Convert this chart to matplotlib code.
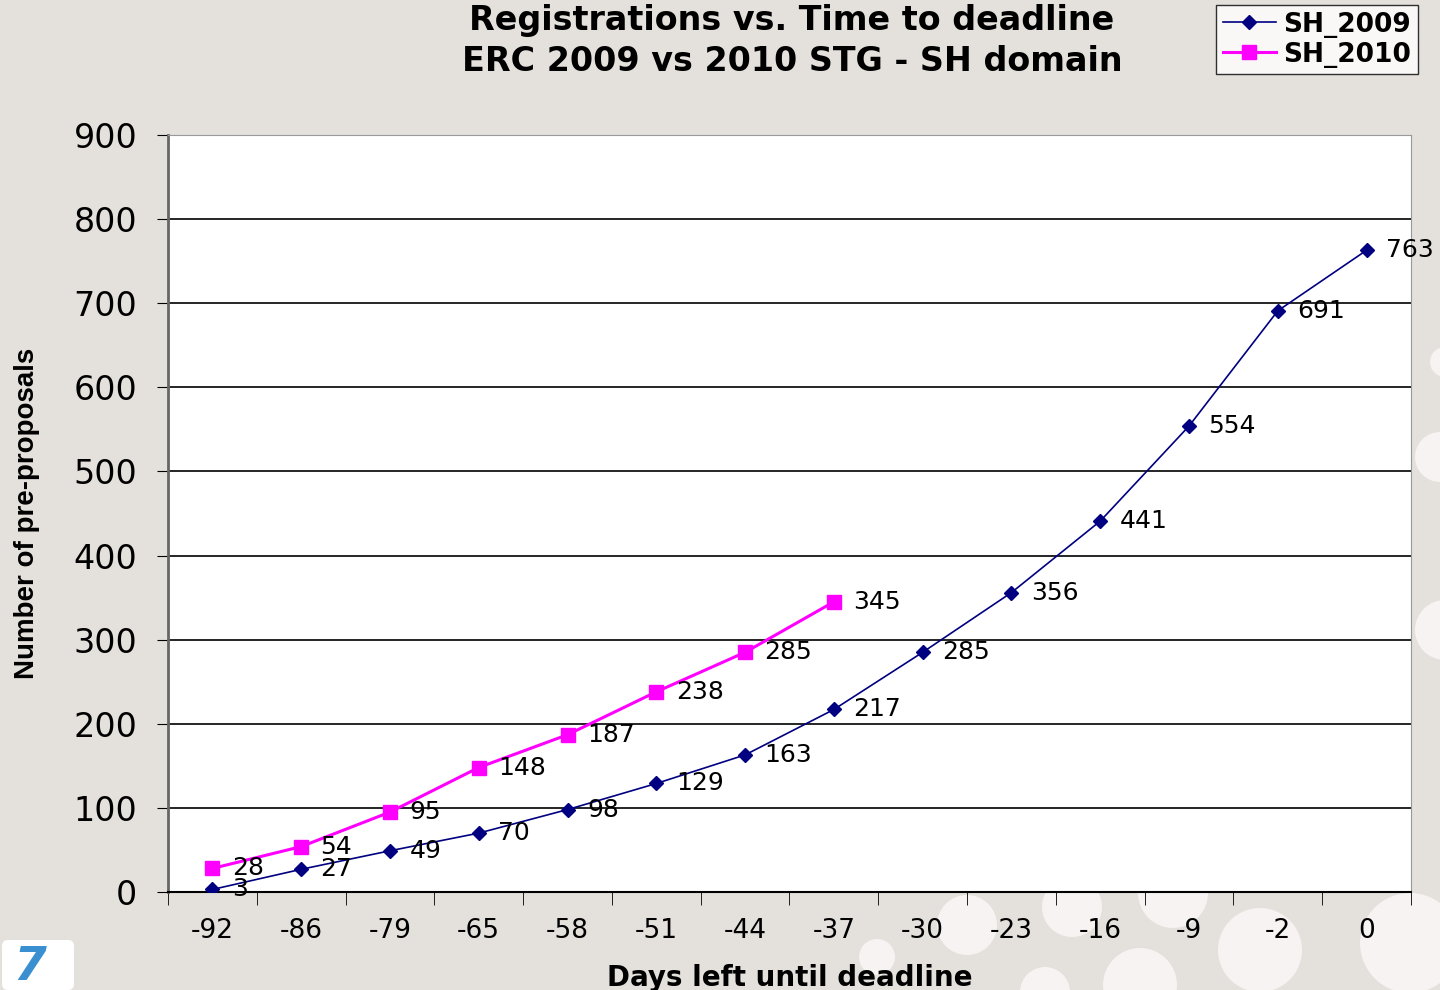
import matplotlib
matplotlib.use("Agg")
import matplotlib.pyplot as plt
from matplotlib.patches import Circle, FancyBboxPatch

categories = ["-92", "-86", "-79", "-65", "-58", "-51", "-44", "-37",
              "-30", "-23", "-16", "-9", "-2", "0"]
sh_2009 = [3, 27, 49, 70, 98, 129, 163, 217, 285, 356, 441, 554, 691, 763]
sh_2010 = [28, 54, 95, 148, 187, 238, 285, 345]
yticks = [0, 100, 200, 300, 400, 500, 600, 700, 800, 900]

plt.rcParams['font.family'] = ['DejaVu Sans']
BG = "#e4e0dc"
fig = plt.figure(figsize=(14.4, 9.9), dpi=100, facecolor=BG)

# decorative circles (pixel coords)
W, H = 1440, 990
circles = [(967, 925, 30), (877, 957, 18), (1072, 907, 30), (1140, 985, 37),
           (1173, 893, 35), (1260, 950, 42), (1410, 943, 50), (1045, 992, 25),
           (1445, 362, 15), (1440, 457, 25), (1445, 630, 30)]
for cx, cy, r in circles:
    fig.patches.append(Circle((cx, H - cy), r, transform=None, facecolor="#f6f3f2",
                              edgecolor="none", zorder=-5))

ax = fig.add_axes([168 / W, 1 - 892 / H, (1411 - 168) / W, (892 - 135) / H])
ax.set_zorder(2)
ax.set_facecolor("white")
x = list(range(len(categories)))

ax.plot(x, sh_2009, color="#000080", lw=1.2, marker="D", ms=7, zorder=3, label="SH_2009")
ax.plot(x[:len(sh_2010)], sh_2010, color="#ff00ff", lw=2.2, marker="s", ms=10,
        zorder=3, label="SH_2010")

for xi, v in zip(x, sh_2009):
    ax.annotate(str(v), (xi, v), xytext=(14, 0), textcoords="offset points",
                fontsize=18, color="black", va="center", ha="left", zorder=4)
for xi, v in zip(x, sh_2010):
    ax.annotate(str(v), (xi, v), xytext=(14, 0), textcoords="offset points",
                fontsize=18, color="black", va="center", ha="left", zorder=4)

ax.set_xlim(-0.5, len(categories) - 0.5)
ax.set_ylim(0, 900)
ax.set_yticks(yticks)
ax.set_yticklabels([str(t) for t in yticks], fontsize=24)
ax.yaxis.grid(True, color="black", lw=1.2)
ax.set_axisbelow(True)
ax.tick_params(axis="y", length=8, direction="out", pad=14, color="black")

ax.set_xticks(x)
ax.set_xticklabels(categories, fontsize=19)
ax.tick_params(axis="x", length=0, pad=19)
ax.set_xticks([i + 0.5 for i in range(-1, len(categories))], minor=True)
ax.tick_params(axis="x", which="minor", length=9, direction="out", color="black")

for s in ["top", "right"]:
    ax.spines[s].set_color("#999999")
ax.spines["left"].set_color("#666666")
ax.spines["left"].set_linewidth(2)
ax.spines["bottom"].set_color("black")
ax.spines["bottom"].set_linewidth(1.5)

ax.set_ylabel("Number of pre-proposals", fontsize=20, fontweight="bold",
              family=["Liberation Sans", "DejaVu Sans"])
ax.yaxis.set_label_coords(-0.103, 0.5)
ax.set_xlabel("Days left until deadline", fontsize=20, fontweight="bold")
ax.xaxis.set_label_coords(0.5, -0.095)

fig.text(792 / W, 1 - 41 / H, "Registrations vs. Time to deadline\nERC 2009 vs 2010 STG - SH domain",
         ha="center", va="center", fontsize=24, fontweight="bold", linespacing=1.27)

leg = fig.legend(loc="upper right", bbox_to_anchor=(1418 / W, 1 - 5 / H),
                 prop={"weight": "bold", "size": 19}, frameon=True, fancybox=False,
                 edgecolor="black", handlelength=2.0, borderpad=0.25, labelspacing=0.15,
                 handletextpad=0.3, borderaxespad=0)
leg.get_frame().set_linewidth(1.0)

# FP7 logo placeholder
fig.patches.append(FancyBboxPatch((2, 0), 72, 50, boxstyle="round,pad=0,rounding_size=6",
                                  transform=None, facecolor="white", edgecolor="none"))
fig.text(30 / W, 22 / H, "7", fontsize=34, fontweight="bold", style="italic",
         color="#3a8fd0", ha="center", va="center")

fig.savefig("out.png", dpi=100, facecolor=BG)
